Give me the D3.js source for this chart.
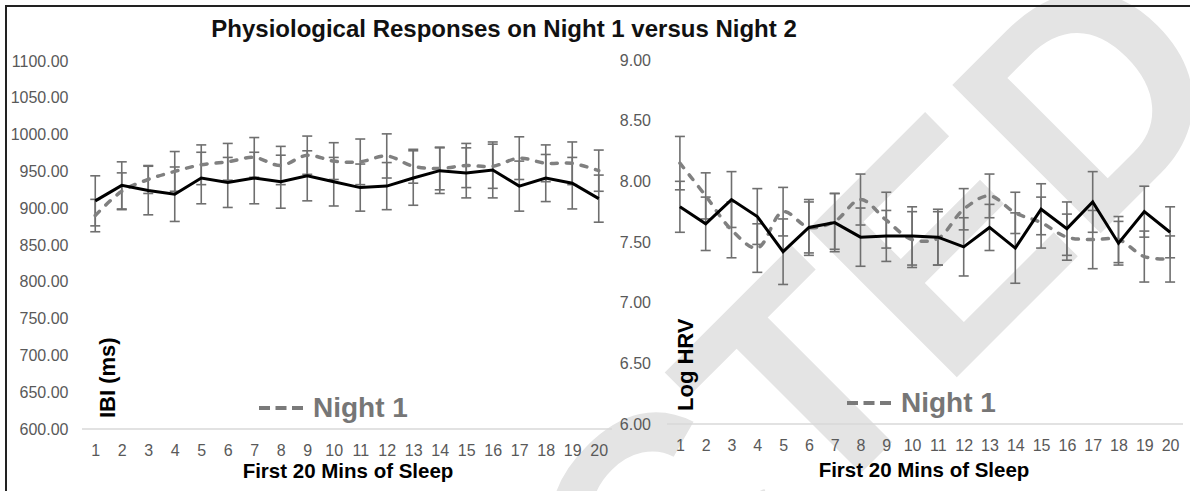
<!DOCTYPE html>
<html>
<head>
<meta charset="utf-8">
<script src="https://cdn.jsdelivr.net/npm/d3@7/dist/d3.min.js"></script>
<style>
  body { margin: 0; background: #fff; }
  text { font-family: "Liberation Sans", Arial, sans-serif; }
</style>
</head>
<body>
<svg id="chart" width="1190" height="491"></svg>
<script>
// minutes on the x axis
var minutes = d3.range(1, 21);

// IBI (ms), mean and error per minute
var ibiNight1   = [890, 923, 939, 950, 959, 963, 969, 958, 972, 964, 963, 971, 957, 954, 958, 957, 968, 961, 961, 951];
var ibiNight1Se = [22, 25, 19, 27, 27, 25, 27, 26, 26, 25, 31, 30, 23, 29, 30, 30, 29, 25, 29, 28];
var ibiNight2   = [910, 931, 924, 919, 941, 935, 941, 936, 944, 936, 928, 930, 941, 951, 948, 952, 930, 941, 934, 913];
var ibiNight2Se = [34, 32, 33, 37, 35, 34, 35, 36, 34, 33, 32, 32, 37, 31, 34, 38, 34, 32, 35, 32];

// Log HRV, mean and error per minute
var hrvNight1   = [8.15, 7.88, 7.60, 7.45, 7.75, 7.62, 7.67, 7.85, 7.68, 7.52, 7.53, 7.77, 7.88, 7.74, 7.66, 7.54, 7.52, 7.52, 7.38, 7.36];
var hrvNight1Se = [0.22, 0.19, 0.23, 0.20, 0.20, 0.21, 0.23, 0.21, 0.23, 0.23, 0.22, 0.17, 0.18, 0.17, 0.21, 0.19, 0.24, 0.19, 0.21, 0.19];
var hrvNight2   = [7.79, 7.65, 7.85, 7.71, 7.42, 7.62, 7.66, 7.54, 7.55, 7.55, 7.54, 7.46, 7.62, 7.45, 7.77, 7.61, 7.83, 7.49, 7.75, 7.58];
var hrvNight2Se = [0.21, 0.22, 0.23, 0.23, 0.27, 0.23, 0.24, 0.24, 0.21, 0.24, 0.23, 0.24, 0.19, 0.29, 0.21, 0.22, 0.25, 0.18, 0.21, 0.21];

// tick values
var ibiTicks = [600, 650, 700, 750, 800, 850, 900, 950, 1000, 1050, 1100];
var hrvTicks = [6.0, 6.5, 7.0, 7.5, 8.0, 8.5, 9.0];

var svg = d3.select('#chart');

// retraction watermark, behind everything
svg.append('text')
  .attr('transform', 'translate(1242,92) rotate(-45)')
  .attr('text-anchor', 'end')
  .attr('font-size', 305)
  .attr('font-weight', 'bold')
  .attr('fill', '#e4e4e4')
  .text('RETRACTED');

// outer frame
svg.append('rect')
  .attr('x', 6).attr('y', 6)
  .attr('width', 1200).attr('height', 500)
  .attr('fill', 'none')
  .attr('stroke', '#222')
  .attr('stroke-width', 2);

svg.append('text')
  .attr('x', 504).attr('y', 37)
  .attr('text-anchor', 'middle')
  .attr('font-size', 24)
  .attr('font-weight', 'bold')
  .attr('fill', '#111')
  .text('Physiological Responses on Night 1 versus Night 2');

function drawPanel(cfg) {
  var g = svg.append('g');
  var x = d3.scalePoint().domain(minutes).range(cfg.xRange).padding(0.5);
  var y = d3.scaleLinear().domain(cfg.yDomain).range(cfg.yRange);
  var base = cfg.yRange[0];

  g.append('line')
    .attr('x1', cfg.xRange[0]).attr('x2', cfg.xRange[1])
    .attr('y1', base).attr('y2', base)
    .attr('stroke', '#d9d9d9').attr('stroke-width', 1.5);

  var yAxis = g.append('g')
    .attr('transform', 'translate(' + cfg.labelRight + ',0)')
    .call(d3.axisLeft(y).tickValues(cfg.yTicks).tickFormat(d3.format('.2f')).tickSize(0).tickPadding(0));
  yAxis.select('.domain').remove();
  yAxis.selectAll('text').attr('font-size', 16).attr('font-family', null).attr('fill', '#595959');

  var xAxis = g.append('g')
    .attr('transform', 'translate(0,' + base + ')')
    .call(d3.axisBottom(x).tickSize(0).tickPadding(15.5));
  xAxis.select('.domain').remove();
  xAxis.selectAll('text').attr('font-size', 16).attr('font-family', null).attr('fill', '#595959');

  // error bars for both nights
  [[cfg.night1, cfg.night1Se], [cfg.night2, cfg.night2Se]].forEach(function (s) {
    var bars = g.append('g').attr('stroke', '#6f6f6f').attr('stroke-width', 1.6)
      .selectAll('g').data(minutes).enter().append('g');
    bars.append('line')
      .attr('x1', function (d) { return x(d); }).attr('x2', function (d) { return x(d); })
      .attr('y1', function (d, i) { return y(s[0][i] - s[1][i]); })
      .attr('y2', function (d, i) { return y(s[0][i] + s[1][i]); });
    [-1, 1].forEach(function (k) {
      bars.append('line')
        .attr('x1', function (d) { return x(d) - 5; }).attr('x2', function (d) { return x(d) + 5; })
        .attr('y1', function (d, i) { return y(s[0][i] + k * s[1][i]); })
        .attr('y2', function (d, i) { return y(s[0][i] + k * s[1][i]); });
    });
  });

  var smooth = d3.line()
    .x(function (d, i) { return x(minutes[i]); })
    .y(function (d) { return y(d); })
    .curve(d3.curveCatmullRom.alpha(0.5));
  var straight = d3.line()
    .x(function (d, i) { return x(minutes[i]); })
    .y(function (d) { return y(d); });

  g.append('path').datum(cfg.night1)
    .attr('d', smooth)
    .attr('fill', 'none').attr('stroke', '#808080').attr('stroke-width', 3.5)
    .attr('stroke-dasharray', '6,9').attr('stroke-linecap', 'round');

  g.append('path').datum(cfg.night2)
    .attr('d', straight)
    .attr('fill', 'none').attr('stroke', '#000').attr('stroke-width', 3)
    .attr('stroke-linejoin', 'miter');

  // axis titles
  g.append('text')
    .attr('transform', 'translate(' + cfg.yTitle[0] + ',' + cfg.yTitle[1] + ') rotate(-90)')
    .attr('font-size', 22).attr('font-weight', 'bold').attr('fill', '#000')
    .text(cfg.yLabel);
  g.append('text')
    .attr('x', cfg.xTitle[0]).attr('y', cfg.xTitle[1])
    .attr('text-anchor', 'middle')
    .attr('font-size', 20.5).attr('font-weight', 'bold').attr('fill', '#000')
    .text('First 20 Mins of Sleep');

  // legend
  g.append('line')
    .attr('x1', cfg.legend[0]).attr('x2', cfg.legend[0] + 44)
    .attr('y1', cfg.legend[1] - 9).attr('y2', cfg.legend[1] - 9)
    .attr('stroke', '#7a7a7a').attr('stroke-width', 4)
    .attr('stroke-dasharray', '11,5.5');
  g.append('text')
    .attr('x', cfg.legend[0] + 54).attr('y', cfg.legend[1])
    .attr('font-size', 28).attr('font-weight', 'bold').attr('fill', '#767676')
    .text('Night 1');
}

drawPanel({
  xRange: [82, 612], yRange: [429, 61], yDomain: [600, 1100], yTicks: ibiTicks,
  labelRight: 68.5,
  night1: ibiNight1, night1Se: ibiNight1Se, night2: ibiNight2, night2Se: ibiNight2Se,
  yLabel: 'IBI (ms)', yTitle: [115, 418], xTitle: [348, 478], legend: [259, 417]
});

drawPanel({
  xRange: [667, 1183], yRange: [424, 60], yDomain: [6, 9], yTicks: hrvTicks,
  labelRight: 651,
  night1: hrvNight1, night1Se: hrvNight1Se, night2: hrvNight2, night2Se: hrvNight2Se,
  yLabel: 'Log HRV', yTitle: [693, 411], xTitle: [924, 477], legend: [847, 412]
});
</script>
</body>
</html>
